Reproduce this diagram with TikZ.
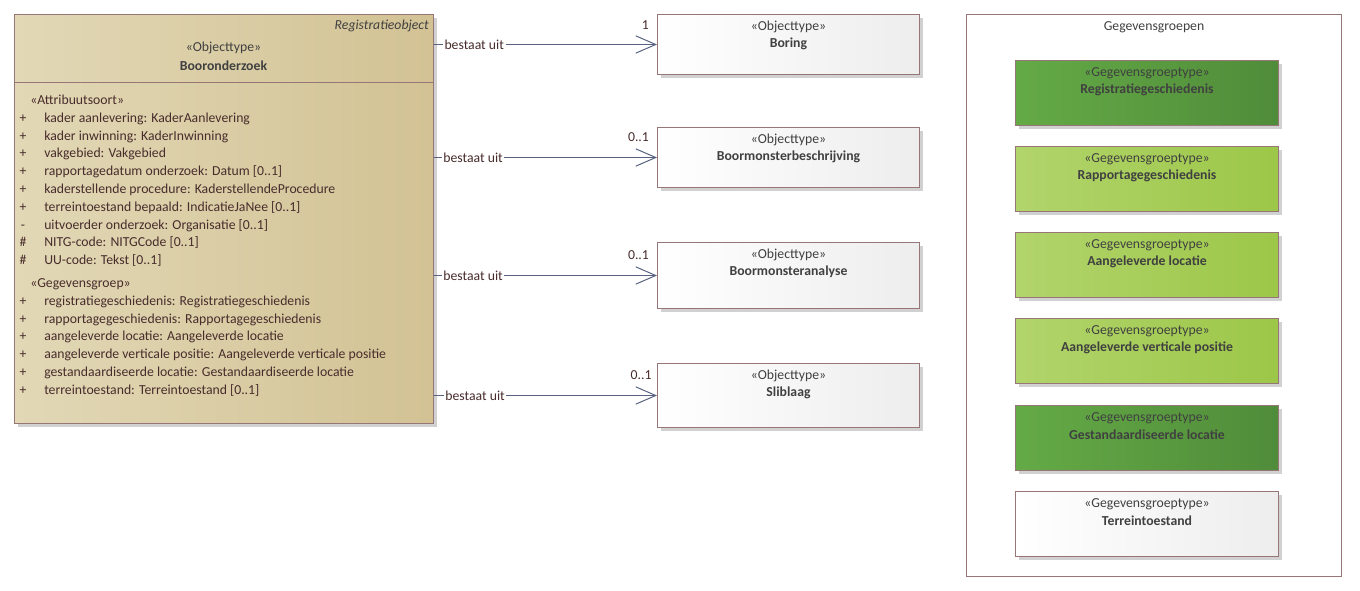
\documentclass[tikz,border=0pt]{standalone}
\usepackage{fontspec}
\setmainfont{Carlito}
\usetikzlibrary{positioning, calc, shadows, arrows.meta}

\definecolor{umlrand}{RGB}{150,118,118}
\definecolor{umltekst}{RGB}{72,44,44}
\definecolor{umllijn}{RGB}{88,98,128}
\definecolor{tanlicht}{RGB}{226,216,182}
\definecolor{tandonker}{RGB}{210,194,148}
\definecolor{groendonker1}{RGB}{100,170,70}
\definecolor{groendonker2}{RGB}{80,140,58}
\definecolor{groenlicht1}{RGB}{178,212,108}
\definecolor{groenlicht2}{RGB}{156,199,72}

\tikzset{
  umlschaduw/.style={drop shadow={shadow xshift=2.5pt, shadow yshift=-2.5pt, fill=black!18, opacity=1}},
  klasse/.style={draw=umlrand, line width=0.75pt, rectangle, inner sep=0pt, umlschaduw},
  objbox/.style={klasse, left color=white, right color=black!7, minimum width=196.5pt, minimum height=45pt, anchor=north west},
  groepbox/.style={klasse, minimum width=197.25pt, minimum height=48.75pt, anchor=north west},
  gdonker/.style={left color=groendonker1, right color=groendonker2},
  glicht/.style={left color=groenlicht1, right color=groenlicht2},
  gwit/.style={left color=white, right color=black!7},
  stereo/.style={font=\fontsize{10.3}{12}\selectfont, text=black!75, inner sep=0pt},
  naam/.style={font=\fontsize{10.3}{12}\selectfont\bfseries, text=black!75, inner sep=0pt},
  attr/.style={font=\fontsize{10.3}{12}\selectfont, text=umltekst, inner sep=0pt, text height=7.3pt, text depth=2.2pt},
  assoc/.style={draw=umllijn, line width=0.75pt, -{Straight Barb[length=15pt, width=13pt, line width=0.75pt]}},
  lbl/.style={font=\fontsize{10.3}{12}\selectfont, text=umltekst, fill=white, inner sep=1.2pt},
  mult/.style={lbl, fill=none, pos=1, anchor=south east, xshift=-4.5pt, yshift=10pt}
}

\begin{document}
\begin{tikzpicture}[x=0.75pt, y=-0.75pt]
  \useasboundingbox (0,0) rectangle (1360,591);

  % Booronderzoek
  \node[klasse, left color=tanlicht, right color=tandonker,
    minimum width=314.25pt, minimum height=306.75pt, anchor=north west] (booronderzoek) at (14,14) {};
  \node[stereo, anchor=east, font=\fontsize{10.3}{12}\selectfont\itshape] (regobj) at (429,26) {Registratieobject};
  \node[stereo] (bstereo) at (223.5,48) {«Objecttype»};
  \node[naam] (bnaam) at (223.5,66) {Booronderzoek};
  \draw[draw=umlrand, line width=0.75pt] ($(booronderzoek.north west)+(0,69)$) -- ($(booronderzoek.north east)+(0,69)$);

  \node[attr, anchor=west] (attrsoort) at (30,101) {«Attribuutsoort»};
  \foreach \vis/\txt [count=\i from 0] in {
    +/kader aanlevering: KaderAanlevering,
    +/kader inwinning: KaderInwinning,
    +/vakgebied: Vakgebied,
    +/rapportagedatum onderzoek: Datum [0..1],
    +/kaderstellende procedure: KaderstellendeProcedure,
    +/terreintoestand bepaald: IndicatieJaNee [0..1],
    -/uitvoerder onderzoek: Organisatie [0..1],
    \#/NITG-code: NITGCode [0..1],
    \#/UU-code: Tekst [0..1]} {
    \node[attr] (avis\i) at (23,119+17.8*\i) {\vis};
    \node[attr, anchor=west] (attr\i) at (44,119+17.8*\i) {\txt};
  }

  \node[attr, anchor=west] (groepsoort) at (30,284) {«Gegevensgroep»};
  \foreach \vis/\txt [count=\i from 0] in {
    +/registratiegeschiedenis: Registratiegeschiedenis,
    +/rapportagegeschiedenis: Rapportagegeschiedenis,
    +/aangeleverde locatie: Aangeleverde locatie,
    +/aangeleverde verticale positie: Aangeleverde verticale positie,
    +/gestandaardiseerde locatie: Gestandaardiseerde locatie,
    +/terreintoestand: Terreintoestand [0..1]} {
    \node[attr] (gvis\i) at (23,302+17.8*\i) {\vis};
    \node[attr, anchor=west] (gattr\i) at (44,302+17.8*\i) {\txt};
  }

  % objecttypen
  \node[objbox] (boring) at (657,14) {};
  \node[objbox] (beschrijving) at (657,127) {};
  \node[objbox, minimum height=49.5pt] (analyse) at (657,242) {};
  \node[objbox, minimum height=48pt] (sliblaag) at (657,363) {};
  \foreach \obj/\txt in {boring/Boring, beschrijving/Boormonsterbeschrijving,
    analyse/Boormonsteranalyse, sliblaag/Sliblaag} {
    \node[stereo] (\obj stereo) at ($(\obj.north)+(0,12.5)$) {«Objecttype»};
    \node[naam] (\obj naam) at ($(\obj.north)+(0,30)$) {\txt};
  }

  \draw[assoc] (booronderzoek.east |- boring.west) --
    node[lbl, pos=0, anchor=west, xshift=6.3pt] (lblboring) {bestaat uit}
    node[mult] (multboring) {1} (boring.west);
  \draw[assoc] (booronderzoek.east |- beschrijving.west) --
    node[lbl, pos=0, anchor=west, xshift=5.5pt] (lblbeschrijving) {bestaat uit}
    node[mult] (multbeschrijving) {0..1} (beschrijving.west);
  \draw[assoc] (booronderzoek.east |- analyse.west) --
    node[lbl, pos=0, anchor=west, xshift=5.5pt] (lblanalyse) {bestaat uit}
    node[mult] (multanalyse) {0..1} (analyse.west);
  \draw[assoc] (booronderzoek.east |- sliblaag.west) --
    node[lbl, pos=0, anchor=west, xshift=7pt] (lblsliblaag) {bestaat uit}
    node[mult, xshift=2pt] (multsliblaag) {0..1} (sliblaag.west);

  % Gegevensgroepen
  \node[draw=umlrand, line width=0.75pt, inner sep=0pt, minimum width=281.25pt,
    minimum height=421.5pt, anchor=north west] (gegevensgroepen) at (966,14) {};
  \node[stereo] (gtitel) at ($(gegevensgroepen.north)+(0,13)$) {Gegevensgroepen};
  \foreach \txt/\kl/\y [count=\i] in {
    Registratiegeschiedenis/gdonker/60,
    Rapportagegeschiedenis/glicht/146,
    Aangeleverde locatie/glicht/232,
    Aangeleverde verticale positie/glicht/318,
    Gestandaardiseerde locatie/gdonker/405,
    Terreintoestand/gwit/491} {
    \node[groepbox, \kl] (groep\i) at (1015,\y) {};
    \node[stereo] (groepstereo\i) at ($(groep\i.north)+(0,13)$) {«Gegevensgroeptype»};
    \node[naam] (groepnaam\i) at ($(groep\i.north)+(0,30)$) {\txt};
  }
\end{tikzpicture}
\end{document}
